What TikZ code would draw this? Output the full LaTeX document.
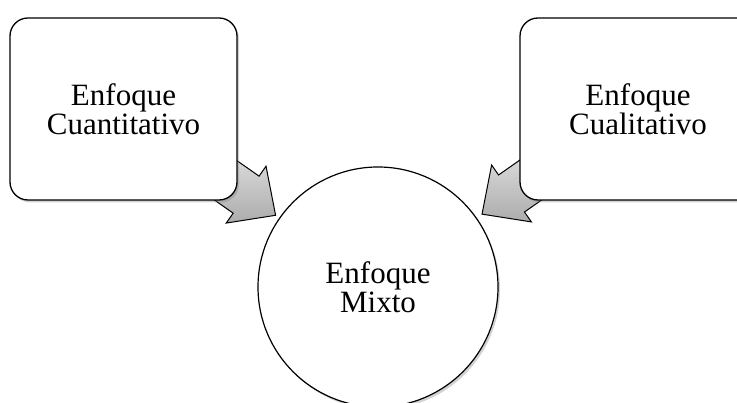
\documentclass[tikz,border=0pt]{standalone}
\usepackage{fontspec}
\setmainfont{Liberation Serif}
\usetikzlibrary{calc,shadows}
\tikzset{
  labelfont/.style={font=\fontsize{31pt}{29pt}\selectfont},
  boxnode/.style={draw=black, line width=1.3pt, rounded corners=18pt, fill=white,
    minimum width=227pt, minimum height=182pt, align=center, labelfont,
    drop shadow={shadow xshift=2pt, shadow yshift=-2.5pt, opacity=0.35}},
  circnode/.style={circle, draw=black, line width=1.2pt, fill=white,
    minimum size=240pt, align=center, inner sep=0pt, labelfont,
    drop shadow={shadow xshift=2pt, shadow yshift=-2.5pt, opacity=0.35}},
  blockarrow/.style={draw=black, line width=1pt, line join=miter,
    top color=gray!25, bottom color=gray!65}
}
\begin{document}
\begin{tikzpicture}[x=1pt,y=1pt]
\useasboundingbox (0,0) rectangle (737,403);
\node[circnode] (mix) at (378,116) {Enfoque\\Mixto};
\coordinate (tL) at ($(mix.center)!125pt!(mix.145)$);
\coordinate (tR) at ($(mix.center)!127pt!(mix.35)$);
\begin{scope}[shift={(tL)}, rotate=-35]
  \draw[blockarrow] (0,0) -- (-36,34.7) -- (-36,22.6) -- (-80,22.6) -- (-80,-22.6) -- (-36,-22.6) -- (-36,-34.7) -- cycle;
\end{scope}
\begin{scope}[shift={(tR)}, rotate=-145]
  \draw[blockarrow] (0,0) -- (-36,34.7) -- (-36,22.6) -- (-80,22.6) -- (-80,-22.6) -- (-36,-22.6) -- (-36,-34.7) -- cycle;
\end{scope}
\node[boxnode] (qt) at (123.5,294) {Enfoque\\Cuantitativo};
\node[boxnode, minimum width=236pt] (ql) at (638,294) {Enfoque\\Cualitativo};
\end{tikzpicture}
\end{document}
